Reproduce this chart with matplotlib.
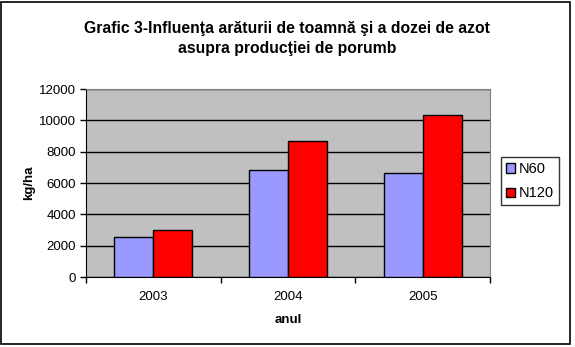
import numpy as np
import matplotlib.pyplot as plt
from matplotlib.patches import Rectangle

# date
ani = ['2003', '2004', '2005']
n60 = [2580, 6810, 6620]
n120 = [3030, 8670, 10330]

plt.rcParams['font.family'] = ['Liberation Sans', 'DejaVu Sans']

fig = plt.figure(figsize=(5.75, 3.47), dpi=100)
# chenarul exterior
fig.patches.append(Rectangle((0.002, 0.008), 0.99, 0.986, transform=fig.transFigure,
                             fill=False, edgecolor='black', linewidth=1.2))

ax = fig.add_axes([86 / 575, 1 - 277 / 347, 404 / 575, 188 / 347])
ax.set_facecolor('#c0c0c0')

x = np.arange(len(ani))
w = 0.29
ax.bar(x - w / 2, n60, w, color='#9999ff', edgecolor='black', linewidth=1, label='N60', zorder=3)
ax.bar(x + w / 2, n120, w, color='#ff0000', edgecolor='black', linewidth=1, label='N120', zorder=3)

ax.set_xlim(-0.5, 2.5)
ax.set_ylim(0, 12000)
ax.set_yticks(range(0, 12001, 2000))
ax.yaxis.grid(True, color='black', linewidth=1, zorder=1)
ax.set_axisbelow(True)

ax.set_xticks(x)
ax.set_xticklabels(ani, fontsize=9.5)
ax.tick_params(axis='x', length=0, pad=10)
ax.set_xticks([-0.5, 0.5, 1.5, 2.5], minor=True)
ax.tick_params(axis='x', which='minor', length=4, width=1, direction='out')
ax.tick_params(axis='y', length=4, width=1, direction='out', labelsize=9.5, pad=3)

for s in ['top', 'right']:
    ax.spines[s].set_color('#808080')
ax.spines['left'].set_color('black')
ax.spines['bottom'].set_color('black')

ax.set_xlabel('anul', fontsize=9.5, fontweight='bold', labelpad=8)
ax.set_ylabel('kg/ha', fontsize=9.5, fontweight='bold', labelpad=3)

fig.text(0.5, 0.94, 'Grafic 3-Influenţa arăturii de toamnă şi a dozei de azot\nasupra producţiei de porumb',
         ha='center', va='top', fontsize=11.3, fontweight='bold', linespacing=1.4)

leg = ax.legend(loc='upper left', bbox_to_anchor=(501 / 575, 1 - 157 / 347), bbox_transform=fig.transFigure,
                fontsize=10.5, frameon=True, fancybox=False, edgecolor='black',
                handlelength=0.6, handleheight=0.6, handletextpad=0.3, borderpad=0.35, labelspacing=0.7,
                borderaxespad=0)
leg.get_frame().set_linewidth(1)

fig.savefig('out.png', dpi=100)
